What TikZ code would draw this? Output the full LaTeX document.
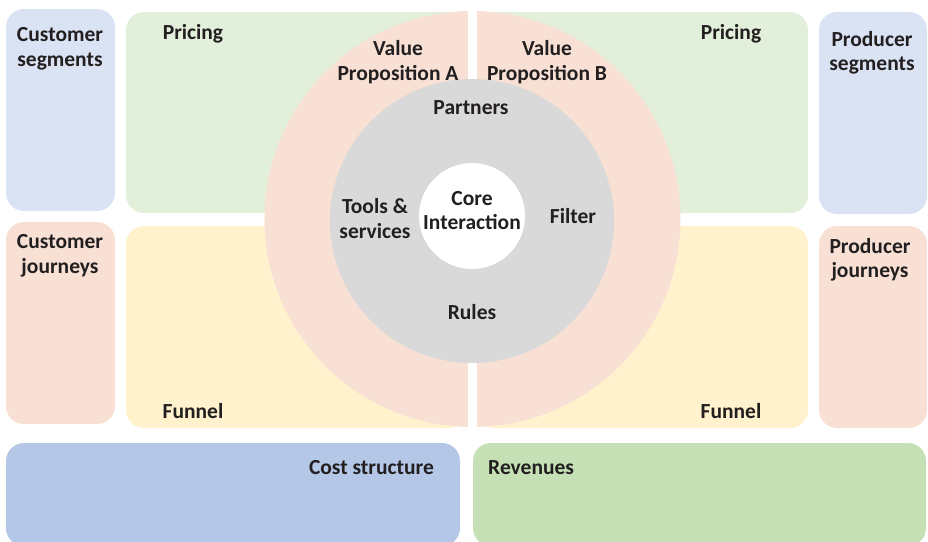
\documentclass[tikz,border=0pt]{standalone}
\usepackage{fontspec}
\setmainfont{Carlito}
\definecolor{segblue}{HTML}{DAE3F3}
\definecolor{peach}{HTML}{F8E1D4}
\definecolor{pricegreen}{HTML}{E2EFDA}
\definecolor{funnelyellow}{HTML}{FFF2CC}
\definecolor{coregray}{HTML}{D9D9D9}
\definecolor{costblue}{HTML}{B4C7E7}
\definecolor{revgreen}{HTML}{C5E0B4}
\definecolor{txt}{HTML}{231F20}
\begin{document}
\begin{tikzpicture}[x=1pt,y=-1pt,
  box/.style={rounded corners=18pt},
  lbl/.style={font=\bfseries\fontsize{21.5}{24.5}\selectfont, text=txt, align=center, inner sep=0pt}]
\useasboundingbox (0,0) rectangle (928,541);
% side boxes
\fill[box, segblue] (6,9) rectangle (115,211);
\fill[box, peach] (6,222) rectangle (115,424);
\fill[box, segblue] (819,12) rectangle (927,214);
\fill[box, peach] (819,226) rectangle (927,428);
% pricing and funnel
\fill[box, pricegreen] (126,12) rectangle (466,213);
\fill[box, pricegreen] (477,12) rectangle (808,213);
\fill[box, funnelyellow] (126,226) rectangle (466,428);
\fill[box, funnelyellow] (477,226) rectangle (808,428);
% bottom
\fill[box, costblue] (6,443) rectangle (460,546);
\fill[box, revgreen] (473,443) rectangle (926,546);
% value proposition ring
\fill[peach] (472.5,219) circle[radius=208];
\fill[white] (468,5) rectangle (477,432);
\fill[coregray] (472,221) circle[radius=142];
\fill[white] (472,216) circle[radius=53];
% labels
\node[lbl] (cseg) at (60,49) {Customer\\segments};
\node[lbl] (cjour) at (60,256) {Customer\\journeys};
\node[lbl] (pseg) at (872,53) {Producer\\segments};
\node[lbl] (pjour) at (870,260) {Producer\\journeys};
\node[lbl] (pricea) at (193,33.5) {Pricing};
\node[lbl] (priceb) at (731,33.5) {Pricing};
\node[lbl] (vpa) at (398,62) {Value\\Proposition A};
\node[lbl] (vpb) at (547,62) {Value\\Proposition B};
\node[lbl] (partners) at (471,107.5) {Partners};
\node[lbl] (tools) at (375,218.5) {Tools \&\\services};
\node[lbl] (core) at (472,210.5) {Core\\Interaction};
\node[lbl] (filter) at (573,216.5) {Filter};
\node[lbl] (rules) at (472,312.5) {Rules};
\node[lbl] (funnela) at (193,411.5) {Funnel};
\node[lbl] (funnelb) at (731,411.5) {Funnel};
\node[lbl, anchor=east] (cost) at (434,467.5) {Cost structure};
\node[lbl, anchor=west] (rev) at (488,467.5) {Revenues};
\end{tikzpicture}
\end{document}
